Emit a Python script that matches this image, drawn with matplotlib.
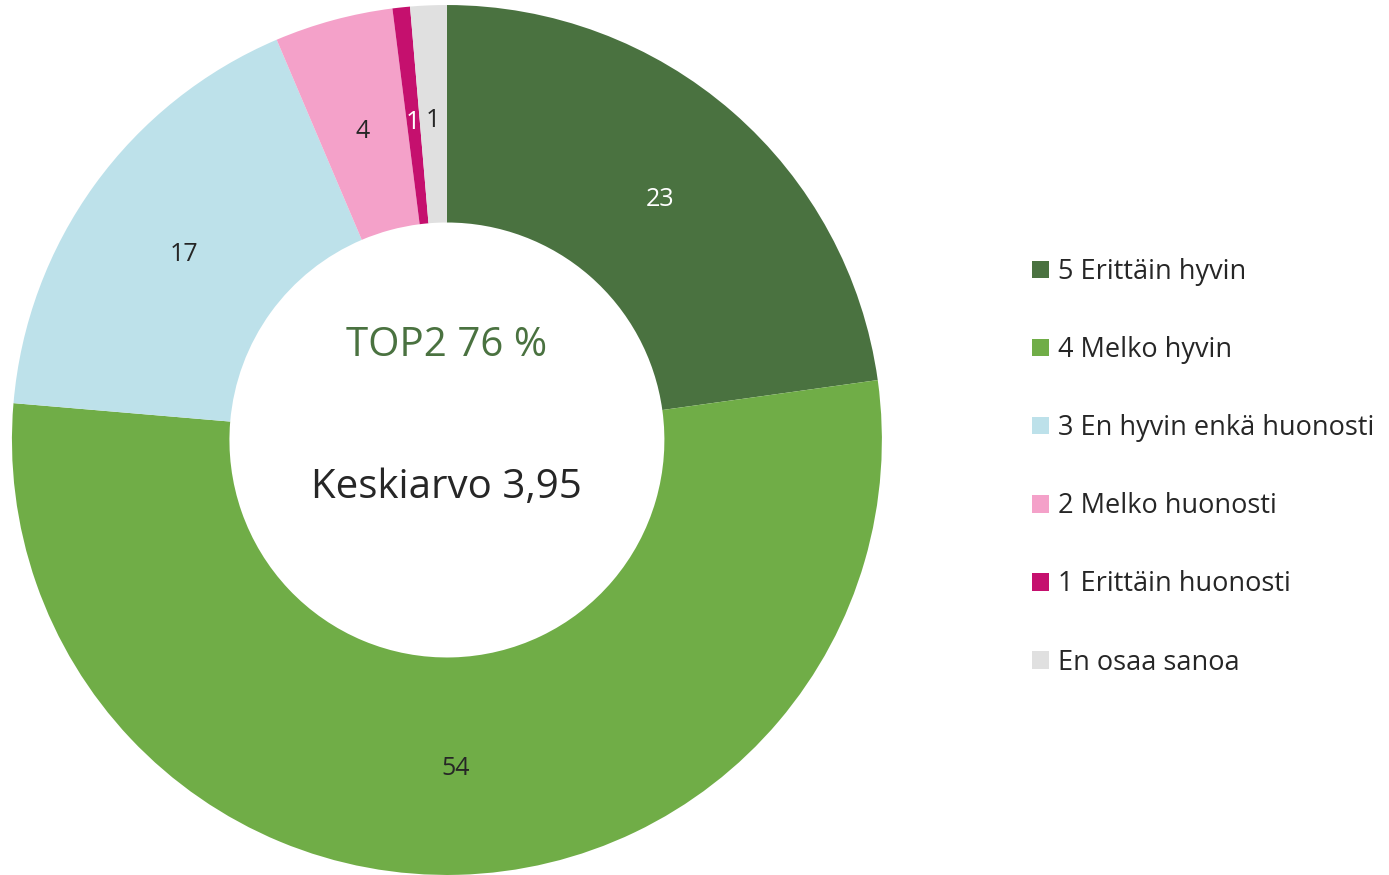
import matplotlib.pyplot as plt
import numpy as np

plt.rcParams['font.family'] = ['Open Sans', 'DejaVu Sans']

labels = ["5 Erittäin hyvin", "4 Melko hyvin", "3 En hyvin enkä huonosti",
          "2 Melko huonosti", "1 Erittäin huonosti", "En osaa sanoa"]
shares = [22.8, 53.55, 17.25, 4.4, 0.65, 1.35]
shown = [23, 54, 17, 4, 1, 1]
colors = ["#4a7240", "#70ad47", "#bde1ea", "#f4a1c9", "#c5106e", "#e0e0e0"]
text_colors = ["white", "#262626", "#262626", "#262626", "white", "#262626"]
top2 = "TOP2 76 %"
mean_txt = "Keskiarvo 3,95"

fig = plt.figure(figsize=(13.89, 8.75), dpi=100)
ax = fig.add_axes([0.0086, 0.0, 0.6263, 0.9943])

wedges, _ = ax.pie(shares, colors=colors, startangle=90, counterclock=False,
                   radius=1.0, wedgeprops=dict(width=0.5, linewidth=0))

for w, v, tc in zip(wedges, shown, text_colors):
    mid = np.deg2rad((w.theta1 + w.theta2) / 2)
    ax.text(0.745 * np.cos(mid), 0.745 * np.sin(mid) - 0.01, str(v), ha='center',
            va='center', fontsize=18, color=tc)

ax.text(0, 0.216, top2, ha='center', va='center', fontsize=29, color="#4a7240")
ax.text(0, -0.109, mean_txt, ha='center', va='center', fontsize=29, color="#262626")
ax.set_xlim(-1, 1)
ax.set_ylim(-1, 1)
ax.set_aspect('equal')

fig.legend(wedges, labels, loc='center left', bbox_to_anchor=(0.7257, 0.466),
           frameon=False, fontsize=19.5, handlelength=0.62, handleheight=0.62,
           handletextpad=0.32, labelspacing=1.85, labelcolor="#262626")

fig.savefig("out.png", dpi=100)
